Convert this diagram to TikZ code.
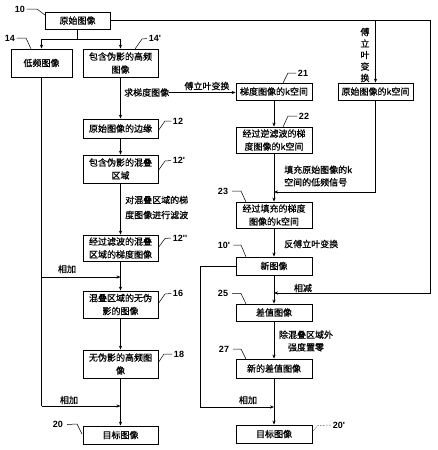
\documentclass[tikz,border=0pt]{standalone}
\usepackage{fontspec}
\newfontfamily\cjkf[FakeBold=0.7]{Noto Sans CJK SC}
\newfontfamily\numf{Liberation Sans}
\usetikzlibrary{arrows.meta}
\begin{document}
\begin{tikzpicture}[x=1pt,y=-1pt,
 box/.style={draw, line width=0.8pt, align=center, inner sep=0pt, font=\cjkf\fontsize{9}{13}\selectfont},
 wl/.style={minimum width=75pt},
 wr/.style={minimum width=76pt},
 txt/.style={font=\cjkf\fontsize{9}{12.5}\selectfont, inner sep=0pt, align=left},
 num/.style={font=\numf\bfseries\fontsize{9}{10}\selectfont, inner sep=0pt},
 ln/.style={line width=0.8pt},
 arr/.style={line width=0.8pt, -{Stealth[length=4pt,width=3.2pt]}},
 lead/.style={line width=0.5pt},
]
\useasboundingbox (0,0) rectangle (437,450);

% boxes
\node[box, minimum width=65pt, minimum height=17pt] (b10) at (77.5,20.5) {原始图像};
\node[box, minimum width=61pt, minimum height=28pt] (b14) at (41.5,63) {低频图像};
\node[box, wl, minimum height=28pt] (b14p) at (120.5,63) {包含伪影的高频\\图像};
\node[box, wl, minimum height=19pt] (b12) at (120.5,128.5) {原始图像的边缘};
\node[box, wl, minimum height=28pt] (b12p) at (120.5,169) {包含伪影的混叠\\区域};
\node[box, wl, minimum height=26pt] (b12pp) at (120.5,248) {经过滤波的混叠\\区域的梯度图像};
\node[box, wl, minimum height=27pt] (b16) at (120.5,304.5) {混叠区域的无伪\\影的图像};
\node[box, wl, minimum height=28pt] (b18) at (120.5,364) {无伪影的高频图\\像};
\node[box, wl, minimum height=18pt] (b20) at (120.5,435) {目标图像};

\node[box, wr, minimum height=17pt] (b21) at (274,91.5) {梯度图像的k空间};
\node[box, minimum width=75pt, minimum height=17pt] (bk0) at (375.5,91.5) {原始图像的k空间};
\node[box, wr, minimum height=26pt] (b22) at (274,140) {经过逆滤波的梯\\度图像的k空间};
\node[box, wr, minimum height=26pt] (b23) at (274,215) {经过填充的梯度\\图像的k空间};
\node[box, wr, minimum height=18pt] (b10p) at (274,266) {新图像};
\node[box, wr, minimum height=17pt] (b25) at (274,312.5) {差值图像};
\node[box, wr, minimum height=19pt] (b27) at (274,368.5) {新的差值图像};
\node[box, wr, minimum height=18pt] (b20p) at (274,434) {目标图像};

% texts
\node[txt, anchor=west] (grad) at (124,92.5) {求梯度图像};
\node[txt] (ftl) at (207,86) {傅立叶变换};
\node[txt, align=center, font=\cjkf\fontsize{9}{11.5}\selectfont] (ftv) at (365,55) {傅\\立\\叶\\变\\换};
\node[txt, anchor=west, font=\cjkf\fontsize{9}{15}\selectfont] (filt) at (125,207.5) {对混叠区域的梯\\度图像进行滤波};
\node[txt, anchor=west] (fill) at (284,176) {填充原始图像的k\\空间的低频信号};
\node[txt, anchor=west] (ift) at (284,244) {反傅立叶变换};
\node[txt] (subl) at (303,288) {相减};
\node[txt, align=center] (zero) at (306,341) {除混叠区域外\\强度置零};
\node[txt] (add1) at (67,269) {相加};
\node[txt] (add2) at (69,400) {相加};
\node[txt] (add3) at (248,400) {相加};

% coordinates
\coordinate (split) at (77.5,39);
\coordinate (rtop) at (430.5,20.5);
\coordinate (rbot) at (430.5,293);
\coordinate (sub) at (274,293);
\coordinate (ftop) at (375.5,20.5);
\coordinate (fcor) at (375.5,192);
\coordinate (fend) at (274,192);
\coordinate (la1) at (41.5,277);
\coordinate (la2) at (41.5,406);
\coordinate (ra0) at (200,266);
\coordinate (ra1) at (200,407);

% connectors
\draw[ln] (b10.south) -- (split);
\draw[arr] (split) -| (b14.north);
\draw[arr] (split) -| (b14p.north);
\draw[ln] (b10.east) -- (rtop) -- (rbot);
\draw[arr] (rbot) -- (sub);
\draw[arr] (ftop) -- (bk0.north);
\draw[arr] (b14p.south) -- (b12.north);
\draw[arr] (grad.east) -- (b21.west |- grad.east);
\draw[arr] (b12.south) -- (b12p.north);
\draw[arr] (b12p.south) -- (b12pp.north);
\draw[arr] (b12pp.south) -- (b16.north);
\draw[arr] (b16.south) -- (b18.north);
\draw[arr] (b18.south) -- (b20.north);
\draw[ln] (b14.south) -- (la2);
\draw[arr] (la1) -- (b16.north |- la1);
\draw[arr] (la2) -- (b20.north |- la2);
\draw[arr] (b21.south) -- (b22.north);
\draw[arr] (b22.south) -- (b23.north);
\draw[ln] (bk0.south) -- (fcor);
\draw[arr] (fcor) -- (fend);
\draw[arr] (b23.south) -- (b10p.north);
\draw[arr] (b10p.south) -- (b25.north);
\draw[arr] (b25.south) -- (b27.north);
\draw[arr] (b27.south) -- (b20p.north);
\draw[ln] (b10p.west) -- (ra0) -- (ra1);
\draw[arr] (ra1) -- (b20p.north |- ra1);

% reference numbers with leaders
\node[num] (n10) at (20,9) {10};
\draw[lead] (n10.east) ++(1.5,0) -- (37,9) -- (45,15);
\node[num] (n14) at (10,38) {14};
\draw[lead] (n14.east) ++(1.5,0) -- (26,38) -- (31,49);
\node[num] (n14p) at (155,38.5) {14'};
\draw[lead] (n14p.west) ++(-1.5,0) -- (142,39) -- (135,49);
\node[num] (n12) at (178,121) {12};
\draw[lead] (n12.west) ++(-1.5,0) -- (165,121) -- (158,131);
\node[num] (n12p) at (179,160.5) {12'};
\draw[lead] (n12p.west) ++(-1.5,0) -- (165,161) -- (158,171);
\node[num] (n12pp) at (180,238) {12''};
\draw[lead] (n12pp.west) ++(-1.5,0) -- (165,238.5) -- (158,248);
\node[num] (n16) at (178,293.5) {16};
\draw[lead] (n16.west) ++(-1.5,0) -- (165,294) -- (158,304);
\node[num] (n18) at (179,354) {18};
\draw[lead] (n18.west) ++(-1.5,0) -- (164,354) -- (158,363);
\node[num] (n20) at (58,424.5) {20};
\draw[lead] (n20.east) ++(4,0) -- (77,424) -- (82,434);
\node[num] (n21) at (303,73) {21};
\draw[lead] (n21.west) ++(-1.5,0) -- (288,73) -- (283,83);
\node[num] (n22) at (304,116) {22};
\draw[lead] (n22.west) ++(-1.5,0) -- (288,116) -- (283,127);
\node[num] (n23) at (223,191) {23};
\draw[lead] (n23.east) ++(4,0) -- (241,191) -- (246,202);
\node[num] (n10p) at (224,245) {10'};
\draw[lead] (n10p.east) ++(3,0) -- (241,245) -- (246,257);
\node[num] (n25) at (223,293.5) {25};
\draw[lead] (n25.east) ++(4,0) -- (241,293.5) -- (246,304);
\node[num] (n27) at (224,349) {27};
\draw[lead] (n27.east) ++(4,0) -- (241,349) -- (246,359);
\node[num] (n20p) at (339,425) {20'};
\draw[lead, densely dotted] (n20p.west) ++(-1.5,0) -- (318,425.5) -- (312,432);
\end{tikzpicture}
\end{document}
